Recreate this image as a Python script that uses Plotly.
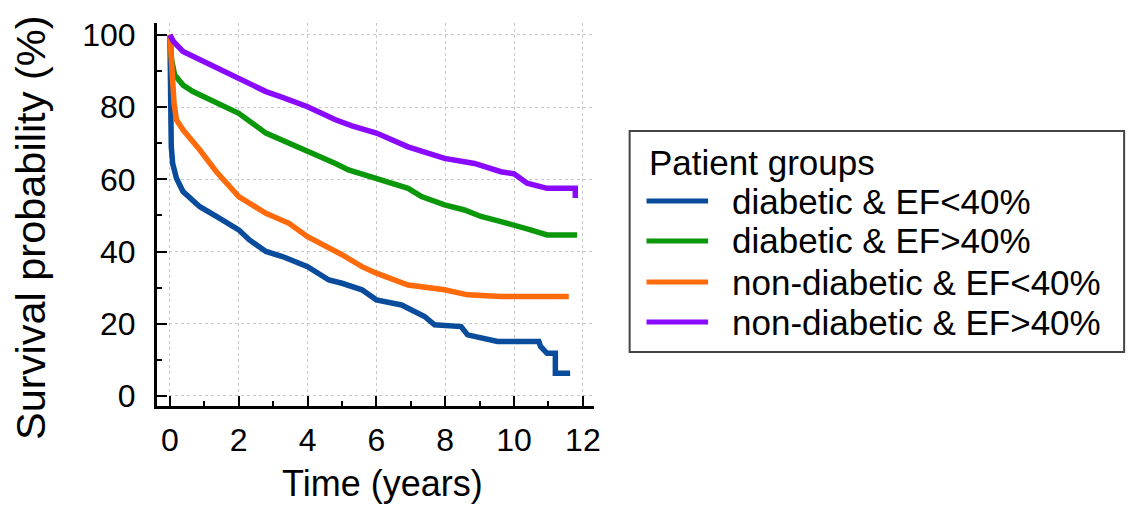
import plotly.graph_objects as go

# ---- data ----
names = ["diabetic &amp; EF&lt;40%", "diabetic &amp; EF&gt;40%",
         "non-diabetic &amp; EF&lt;40%", "non-diabetic &amp; EF&gt;40%"]
colors = ["#0a4c9c", "#0a980a", "#ff6a0a", "#8a0aff"]
legend_title = "Patient groups"
x_title = "Time (years)"
y_title = "Survival probability (%)"

t_diab_low = [0, 0.02, 0.04, 0.08, 0.19, 0.38, 0.87, 1.35, 2.0, 2.31, 2.79, 3.27, 4.0, 4.62, 5.0,
              5.58, 6.0, 6.73, 7.12, 7.4, 7.69, 8.46, 8.65, 9.04, 9.52, 10.72, 10.77, 10.96,
              11.2, 11.2, 11.63]
s_diab_low = [100, 81, 69, 64.4, 60.3, 56.6, 52.4, 49.7, 46, 43.2, 40, 38.6, 35.8, 32.1, 31.2,
              29.4, 26.6, 25.2, 23.4, 22, 19.7, 19.2, 16.9, 16, 15.1, 15.1, 13.7, 11.8,
              11.8, 6.3, 6.3]

t_diab_high = [0, 0.05, 0.14, 0.38, 0.67, 1.15, 2.0, 2.79, 3.27, 4.0, 4.81, 5.19, 6.0, 6.92,
               7.31, 7.98, 8.56, 9.04, 9.62, 10.0, 10.48, 10.96, 11.83]
s_diab_high = [100, 93, 88.9, 86.1, 84.3, 82, 78.3, 72.8, 70.9, 67.7, 64.4, 62.6, 60.3, 57.5,
               55.2, 52.9, 51.5, 49.7, 48.3, 47.4, 46, 44.6, 44.6]

t_nond_low = [0, 0.05, 0.12, 0.19, 0.38, 0.87, 1.35, 2.0, 2.79, 3.46, 4.0, 5.0, 5.58, 6.0,
              6.92, 7.98, 8.65, 9.62, 11.59]
s_nond_low = [100, 90.3, 81.1, 76.5, 73.7, 68.1, 62.1, 55.2, 50.6, 47.8, 44.1, 39.1, 35.8, 34,
              30.7, 29.4, 28, 27.5, 27.5]

t_nond_high = [0, 0.1, 0.38, 0.87, 1.63, 2.0, 2.79, 3.27, 4.0, 4.81, 5.29, 6.0, 6.92, 7.98,
               8.85, 9.62, 10.0, 10.38, 10.96, 11.73, 11.78, 11.78]
s_nond_high = [100, 98.2, 95.4, 93.1, 89.6, 88, 84.3, 82.7, 80.1, 76.5, 74.8, 72.8, 69, 65.8,
               64.4, 62.1, 61.5, 58.9, 57.5, 57.5, 57.5, 54.8]

times = [t_diab_low, t_diab_high, t_nond_low, t_nond_high]
survs = [s_diab_low, s_diab_high, s_nond_low, s_nond_high]

x_ticks = [0, 2, 4, 6, 8, 10, 12]
y_ticks = [0, 20, 40, 60, 80, 100]

FONT = "Arial, 'Liberation Sans', sans-serif"

# figure geometry (page body adds an 8px offset)
W, H = 1140, 501
ML, MT, MB = 149, 15, 103
PW = W - ML
PH = H - MT - MB


def px(X):
    return (X - 8 - ML) / PW


def py(Y):
    return (H - MB - (Y - 8)) / PH


fig = go.Figure()
for n, c, t, s in zip(names, colors, times, survs):
    fig.add_trace(go.Scatter(x=t, y=s, mode="lines", name=n, showlegend=False,
                             line=dict(color=c, width=5.5)))

axis_common = dict(
    showline=True, linecolor="black", linewidth=3, mirror=False,
    ticks="inside", ticklen=10, tickwidth=2, tickcolor="black",
    showgrid=True, gridcolor="#c8c8c8", gridwidth=1, griddash="dot",
    zeroline=False,
    tickfont=dict(family=FONT, size=32, color="black"),
)

shapes = [dict(type="rect", xref="paper", yref="paper",
               x0=px(633), x1=px(1131), y0=py(352), y1=py(131),
               line=dict(color="#444444", width=2), fillcolor="white", layer="above")]
annotations = [
    dict(text=y_title, textangle=-90, xref="paper", yref="paper",
         x=px(29), y=py(228), xanchor="center", yanchor="middle", showarrow=False,
         font=dict(family=FONT, size=41.5, color="black")),
    dict(text=x_title, xref="paper", yref="paper",
         x=px(384), y=py(483), xanchor="center", yanchor="middle", showarrow=False,
         font=dict(family=FONT, size=36, color="black")),
    dict(text=legend_title, xref="paper", yref="paper",
         x=px(650), y=py(162), xanchor="left", yanchor="middle", showarrow=False,
         font=dict(family=FONT, size=35, color="black")),
]
row_y = [201, 241, 282, 322]
for n, c, ry in zip(names, colors, row_y):
    shapes.append(dict(type="line", xref="paper", yref="paper",
                       x0=px(650), x1=px(712), y0=py(ry), y1=py(ry),
                       line=dict(color=c, width=5), layer="above"))
    annotations.append(dict(text=n, xref="paper", yref="paper",
                            x=px(734), y=py(ry), xanchor="left", yanchor="middle",
                            showarrow=False,
                            font=dict(family=FONT, size=35, color="black")))

fig.update_layout(
    width=W, height=H,
    margin=dict(l=ML, r=0, t=MT, b=MB),
    paper_bgcolor="white", plot_bgcolor="white",
    font=dict(family=FONT, color="black"),
    xaxis=dict(axis_common, range=[-0.375, 12.32], domain=[0, 0.444],
               tickvals=x_ticks, ticklabelstandoff=4,
               minor=dict(dtick=1, ticklen=5, tickwidth=1.5, tickcolor="black",
                          ticks="inside", showgrid=False)),
    yaxis=dict(axis_common, range=[-2.8, 103.3],
               tickvals=y_ticks, ticklabelstandoff=12,
               minor=dict(dtick=10, ticklen=5, tickwidth=1.5, tickcolor="black",
                          ticks="inside", showgrid=False)),
    shapes=shapes,
    annotations=annotations,
    showlegend=False,
)

fig.write_html("out.html")
